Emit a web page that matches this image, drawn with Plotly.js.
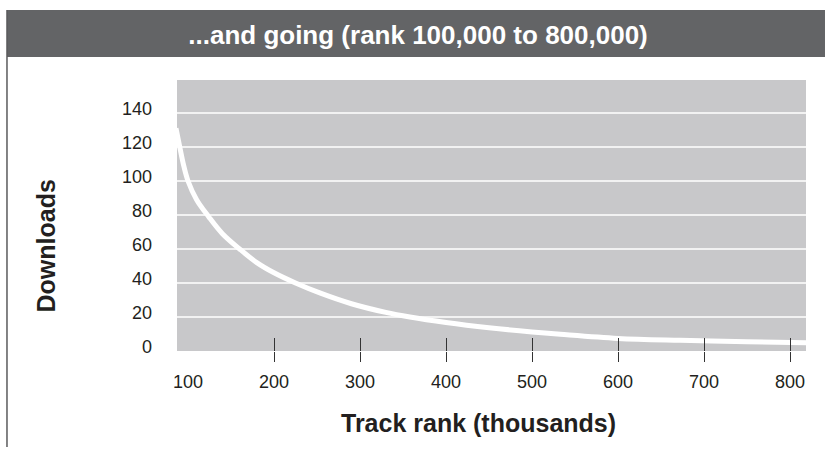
<!DOCTYPE html>
<html>
<head>
<meta charset="utf-8">
<script src="https://cdn.plot.ly/plotly-3.0.1.min.js"></script>
<style>html,body{margin:0;padding:0;background:#fff;}#chart{width:825px;height:450px;}</style>
</head>
<body>
<div id="chart"></div>
<script>
// Track rank (thousands)
var trackRank = [86, 90, 95, 100, 110, 124, 140, 160, 180, 200, 225, 254, 290, 330, 358, 400, 450, 500, 533, 600, 672, 750, 820];
// Downloads
var downloads = [131, 121, 109, 100, 89, 79, 69, 60, 52, 46, 40, 34, 27.8, 22.7, 20, 16.8, 13.7, 11.2, 9.8, 7.4, 6.3, 5.5, 4.9];
var xTickVals = [100, 200, 300, 400, 500, 600, 700, 800];
var xTickMarks = [200, 300, 400, 500, 600, 700, 800];
var yTickVals = [0, 20, 40, 60, 80, 100, 120, 140];
var chartTitle = '...and going (rank 100,000 to 800,000)';
var xTitle = 'Track rank (thousands)';
var yTitle = 'Downloads';

var xRange = [87.2, 818.6];
var yRange = [0, 159.4];
var txt = '#231f20';
var fam = 'Liberation Sans, Arial, sans-serif';

var traces = [
  {
    x: trackRank, y: downloads, type: 'scatter', mode: 'lines',
    line: {color: '#ffffff', width: 5, shape: 'spline', smoothing: 1},
    hoverinfo: 'x+y', showlegend: false
  },
  {
    x: [trackRank[0]], y: [downloads[0]], xaxis: 'x2', type: 'scatter', mode: 'markers',
    marker: {opacity: 0}, hoverinfo: 'skip', showlegend: false
  },
  {
    x: [trackRank[0]], y: [downloads[0]], xaxis: 'x3', type: 'scatter', mode: 'markers',
    marker: {opacity: 0}, hoverinfo: 'skip', showlegend: false
  }
];

function tickAxis(dir, len) {
  return {
    range: xRange, overlaying: 'x', anchor: 'y', side: 'bottom',
    tickvals: xTickMarks, showticklabels: false,
    showgrid: false, zeroline: false, showline: false,
    ticks: dir, ticklen: len, tickwidth: 1, tickcolor: '#333333'
  };
}

var layout = {
  width: 825, height: 450,
  margin: {l: 177, r: 19, t: 80, b: 99, pad: 0},
  paper_bgcolor: '#ffffff',
  plot_bgcolor: '#c8c8ca',
  title: {
    text: chartTitle,
    font: {family: fam, size: 26, color: '#ffffff', weight: 'bold'},
    x: 0.5067, xref: 'container', xanchor: 'center',
    y: 0.922, yref: 'container', yanchor: 'middle'
  },
  xaxis: {
    range: xRange, tickvals: xTickVals, ticktext: xTickVals.map(String),
    showgrid: false, zeroline: false, showline: false,
    ticks: 'outside', ticklen: 10, tickcolor: 'rgba(0,0,0,0)',
    tickfont: {family: fam, size: 18, color: txt},
    ticklabelstandoff: 4
  },
  xaxis2: tickAxis('outside', 10),
  xaxis3: tickAxis('inside', 13),
  yaxis: {
    range: yRange, tickvals: yTickVals, ticktext: yTickVals.map(String),
    showgrid: true, gridcolor: '#f2f2f2', gridwidth: 1.5,
    zeroline: false, showline: false, ticks: '',
    tickfont: {family: fam, size: 18, color: txt},
    ticklabelstandoff: 24, ticklabelshift: -4
  },
  shapes: [
    {type: 'rect', xref: 'paper', yref: 'paper', x0: -0.2703, x1: 1.0302, y0: 1.0849, y1: 1.2583,
     fillcolor: '#636466', line: {width: 0}, layer: 'below'},
    {type: 'line', xref: 'paper', yref: 'paper', x0: -0.2703, x1: -0.2703, y0: -0.354, y1: 1.2583,
     line: {color: '#5a5a5c', width: 1.5}}
  ],
  annotations: [
    {text: xTitle, xref: 'paper', yref: 'paper', x: (478 - 177) / 629, y: (351 - 423) / 271,
     xanchor: 'center', yanchor: 'middle', showarrow: false,
     font: {family: fam, size: 25, color: txt, weight: 'bold'}},
    {text: yTitle, xref: 'paper', yref: 'paper', x: (45 - 177) / 629, y: (351 - 246.5) / 271,
     xanchor: 'center', yanchor: 'middle', textangle: -90, showarrow: false,
     font: {family: fam, size: 25, color: txt, weight: 'bold'}}
  ]
};

Plotly.newPlot('chart', traces, layout, {displayModeBar: false, staticPlot: true});
</script>
</body>
</html>
